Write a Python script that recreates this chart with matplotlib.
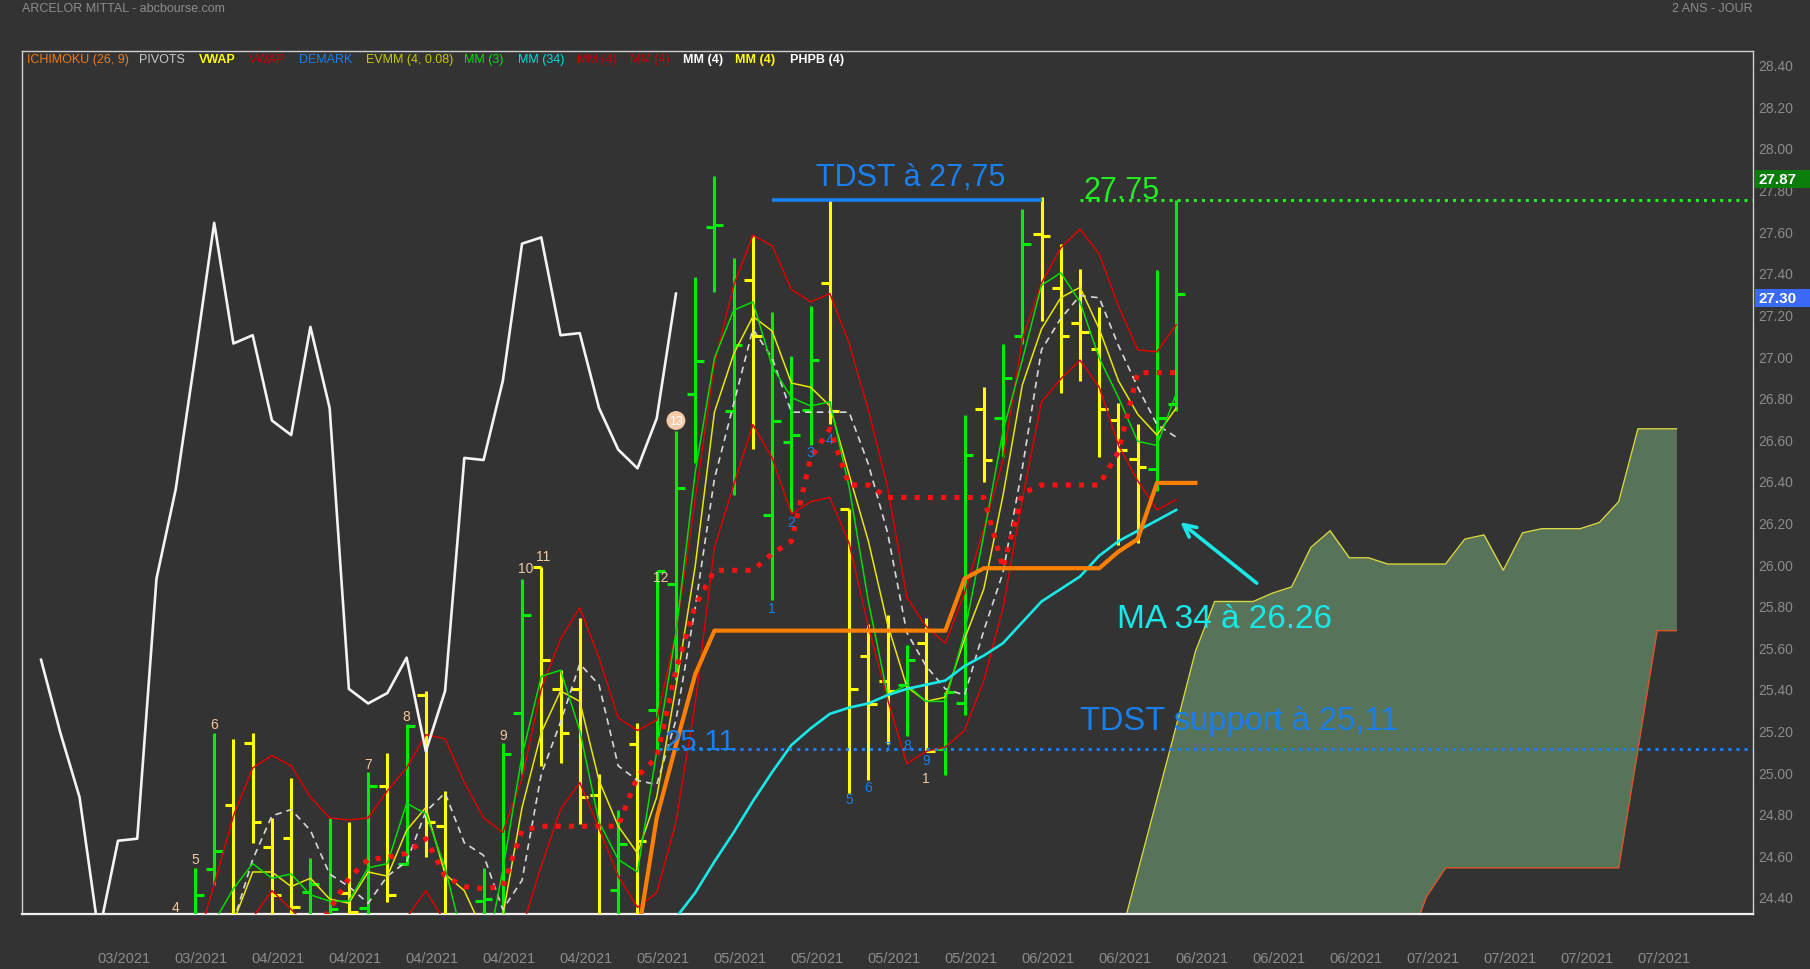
import matplotlib.pyplot as plt
from matplotlib.patches import Rectangle
from matplotlib.transforms import blended_transform_factory

# ---- cours journaliers (index de barre 8 -> 59) ----
bar_start = 8
opens = [24.25, 24.535, 24.84, 25.14, 24.64, 24.685, 24.425, 24.28, 24.42, 24.345, 24.935, 24.56, 25.37,
         24.74, 23.95, 24.38, 24.29, 25.285, 25.988, 25.40, 25.398, 24.888, 24.435, 25.134, 25.297, 25.906,
         26.819, 27.62, 26.737, 27.365, 26.236, 26.586, 26.74, 27.35, 26.267, 25.556, 25.438, 25.42, 25.62,
         25.11, 25.33, 26.747, 26.70, 27.095, 27.585, 27.326, 27.161, 27.032, 26.693, 26.506, 26.459, 26.77]
highs = [24.54, 25.19, 25.16, 25.19, 24.78, 24.97, 24.585, 24.78, 24.76, 25.00, 25.09, 25.23, 25.39,
         24.91, 24.27, 24.537, 25.139, 25.929, 25.988, 25.49, 25.74, 24.992, 24.82, 25.238, 25.965, 26.638,
         27.381, 27.865, 27.471, 27.582, 27.211, 26.999, 27.24, 27.75, 26.267, 25.71, 25.757, 25.61, 25.74,
         25.386, 26.718, 26.85, 27.06, 27.708, 27.766, 27.538, 27.42, 27.237, 26.773, 26.671, 27.413, 27.75]
lows = [24.20, 24.455, 24.25, 24.66, 24.30, 24.28, 24.30, 24.25, 24.28, 24.30, 24.375, 24.555, 24.594,
        23.60, 23.80, 23.96, 24.21, 24.992, 25.03, 25.044, 24.75, 24.076, 24.13, 24.30, 25.096, 25.445,
        26.484, 27.306, 26.33, 26.555, 25.828, 26.248, 26.57, 26.673, 24.90, 24.96, 25.134, 25.174, 25.10,
        24.985, 25.275, 26.393, 26.514, 27.06, 27.166, 26.824, 26.88, 26.514, 26.09, 26.099, 26.353, 26.737]
closes = [24.41, 24.62, 24.30, 24.76, 24.41, 24.35, 24.46, 24.34, 24.33, 24.935, 24.41, 25.22, 24.76,
          23.65, 24.10, 24.39, 25.087, 25.757, 25.54, 25.186, 24.879, 24.22, 24.655, 24.671, 25.965, 26.366,
          26.975, 27.63, 27.051, 27.098, 26.69, 26.619, 26.98, 26.737, 25.398, 25.327, 25.39, 25.54, 25.103,
          25.386, 26.525, 26.499, 26.895, 27.538, 27.576, 27.095, 27.114, 26.747, 26.549, 26.466, 26.70, 27.30]

# ---- indicateurs (valeur de depart = index) ----
mm3_start = 9
mm3 = [24.28, 24.44, 24.56, 24.49, 24.51, 24.41, 24.38, 24.38, 24.54, 24.56, 24.85, 24.80, 24.54, 24.17,
       24.05, 24.53, 25.08, 25.46, 25.49, 25.20, 24.76, 24.58, 24.52, 25.10, 25.67, 26.44, 26.99, 27.22,
       27.26, 26.95, 26.80, 26.76, 26.78, 26.37, 25.82, 25.37, 25.42, 25.34, 25.34, 25.67, 26.14, 26.64,
       26.98, 27.34, 27.40, 27.26, 26.99, 26.80, 26.59, 26.57, 26.82]
mm4_start = 10
mm4 = [24.28, 24.52, 24.52, 24.45, 24.49, 24.39, 24.37, 24.52, 24.50, 24.72, 24.83, 24.51, 24.43, 24.23,
       24.31, 24.83, 25.19, 25.39, 25.34, 24.96, 24.74, 24.61, 24.88, 25.41, 25.99, 26.73, 27.01, 27.19,
       27.12, 26.87, 26.85, 26.76, 26.43, 26.11, 25.71, 25.41, 25.34, 25.36, 25.64, 25.88, 26.33, 26.86,
       27.13, 27.28, 27.33, 27.13, 26.88, 26.72, 26.62, 26.75]
mm_high_start = 8
mm_high = [24.15, 24.46, 24.79, 25.02, 25.08, 25.03, 24.88, 24.78, 24.77, 24.78, 24.91, 25.02, 25.18, 25.16,
           24.95, 24.78, 24.71, 24.97, 25.40, 25.64, 25.79, 25.55, 25.26, 25.20, 25.25, 25.67, 26.31, 26.96,
           27.34, 27.58, 27.53, 27.32, 27.26, 27.30, 27.06, 26.74, 26.37, 25.84, 25.70, 25.62, 25.86, 26.17,
           26.50, 27.08, 27.35, 27.52, 27.61, 27.49, 27.24, 27.03, 27.02, 27.15]
mm_low_start = 9
mm_low = [24.10, 24.20, 24.30, 24.43, 24.34, 24.25, 24.15, 24.10, 24.15, 24.20, 24.30, 24.43, 24.28, 24.05,
          23.95, 24.00, 24.25, 24.55, 24.82, 24.95, 24.73, 24.50, 24.35, 24.42, 24.76, 25.33, 26.08, 26.38,
          26.67, 26.51, 26.24, 26.30, 26.32, 26.10, 25.70, 25.35, 25.04, 25.10, 25.12, 25.20, 25.44, 25.79,
          26.31, 26.78, 26.89, 26.98, 26.85, 26.57, 26.40, 26.26, 26.31]
mm_open_start = 10
mm_open = [24.28, 24.58, 24.79, 24.82, 24.72, 24.51, 24.45, 24.37, 24.50, 24.57, 24.81, 24.90, 24.66, 24.60,
           24.34, 24.48, 24.99, 25.24, 25.52, 25.42, 25.03, 24.96, 24.94, 25.25, 25.79, 26.41, 26.77, 27.13,
           26.99, 26.73, 26.73, 26.73, 26.73, 26.48, 26.15, 25.67, 25.51, 25.40, 25.37, 25.68, 25.96, 26.46,
           27.03, 27.18, 27.29, 27.28, 27.05, 26.85, 26.67, 26.61]
mm34_start = 33
mm34 = [24.30, 24.42, 24.57, 24.71, 24.86, 25.00, 25.13, 25.21, 25.28, 25.31, 25.33, 25.37, 25.40, 25.42,
        25.44, 25.51, 25.56, 25.62, 25.72, 25.82, 25.88, 25.94, 26.04, 26.11, 26.16, 26.21, 26.26]
tenkan_start = 14
tenkan = [24.20, 24.34, 24.49, 24.58, 24.59, 24.61, 24.68, 24.50, 24.45, 24.44, 24.45, 24.72, 24.74, 24.74,
          24.74, 24.74, 24.74, 24.98, 25.07, 25.49, 25.80, 25.97, 25.97, 25.97, 26.05, 26.11, 26.51, 26.65,
          26.38, 26.38, 26.32, 26.32, 26.32, 26.32, 26.32, 26.32, 25.98, 26.34, 26.38, 26.38, 26.38, 26.38,
          26.54, 26.92, 26.92, 26.92]
kijun_start = 31
kijun = [24.20, 24.78, 25.13, 25.47, 25.68, 25.68, 25.68, 25.68, 25.68, 25.68, 25.68, 25.68, 25.68, 25.68,
         25.68, 25.68, 25.68, 25.93, 25.98, 25.98, 25.98, 25.98, 25.98, 25.98, 25.98, 26.06, 26.12, 26.39,
         26.39, 26.39]
chikou_start = 0
chikou = [25.54, 25.19, 24.88, 24.22, 24.67, 24.68, 25.93, 26.36, 26.99, 27.64, 27.06, 27.10, 26.69, 26.62,
          27.14, 26.75, 25.40, 25.33, 25.38, 25.55, 25.10, 25.39, 26.51, 26.50, 26.88, 27.54, 27.57, 27.10,
          27.11, 26.75, 26.55, 26.46, 26.70, 27.30]
kumo_start = 56
senkou_a = [24.17, 24.52, 24.87, 25.22, 25.58, 25.82, 25.82, 25.82, 25.86, 25.89, 26.08, 26.16, 26.03, 26.03,
            26.00, 26.00, 26.00, 26.00, 26.12, 26.14, 25.97, 26.15, 26.17, 26.17, 26.17, 26.20, 26.30, 26.65,
            26.65, 26.65]
senkou_b = [24.00, 24.00, 24.00, 24.00, 24.00, 24.00, 24.00, 24.00, 24.00, 24.00, 24.00, 24.00, 24.00, 24.00,
            24.00, 24.15, 24.40, 24.54, 24.54, 24.54, 24.54, 24.54, 24.54, 24.54, 24.54, 24.54, 24.54, 25.11,
            25.68, 25.68]

# comptages DeMark
setup_counts = [('4', 7, 24.35), ('5', 8, 24.58), ('6', 9, 25.23), ('7', 17, 25.04), ('8', 19, 25.27),
                ('9', 24, 25.18), ('10', 25.2, 25.98), ('11', 26.1, 26.04), ('12', 32.2, 25.94), ('1', 46, 24.97)]
blue_counts = [('1', 38, 25.79), ('2', 39, 26.20), ('3', 40, 26.54), ('4', 41, 26.60), ('5', 42, 24.87),
               ('6', 43, 24.93), ('7', 44, 25.12), ('8', 45, 25.13), ('9', 46, 25.06)]

x_tick_pos = [4.33, 8.33, 12.33, 16.33, 20.33, 24.33, 28.33, 32.33, 36.33, 40.33, 44.33,
              48.33, 52.33, 56.33, 60.33, 64.33, 68.33, 72.33, 76.33, 80.33, 84.33]
x_tick_labels = ['03/2021', '03/2021', '04/2021', '04/2021', '04/2021', '04/2021', '04/2021',
                 '05/2021', '05/2021', '05/2021', '05/2021', '05/2021', '06/2021', '06/2021',
                 '06/2021', '06/2021', '06/2021', '07/2021', '07/2021', '07/2021', '07/2021']
y_ticks = [24.4, 24.6, 24.8, 25.0, 25.2, 25.4, 25.6, 25.8, 26.0, 26.2, 26.4, 26.6, 26.8,
           27.0, 27.2, 27.4, 27.6, 27.8, 28.0, 28.2, 28.4]

legend_items = [('ICHIMOKU (26, 9)', '#f07c14', 'normal', 27), ('PIVOTS', '#c8c8c8', 'normal', 139),
                ('VWAP', '#ffff00', 'bold', 199), ('VWAP', '#c80000', 'normal', 249),
                ('DEMARK', '#1a7fe8', 'normal', 299), ('EVMM (4, 0.08)', '#c8c800', 'normal', 366),
                ('MM (3)', '#00e000', 'normal', 464), ('MM (34)', '#00dede', 'normal', 518),
                ('MM (4)', '#c80000', 'normal', 577), ('MM (4)', '#c80000', 'normal', 630),
                ('MM (4)', '#ffffff', 'bold', 683), ('MM (4)', '#ffff00', 'bold', 735),
                ('PHPB (4)', '#ffffff', 'bold', 790)]

BG = '#333333'
GREY = '#8c8c8c'
REG = ['Liberation Sans', 'DejaVu Sans']
NAR = ['Liberation Sans Narrow', 'Liberation Sans', 'DejaVu Sans']

W, H = 1810, 970
fig = plt.figure(figsize=(W / 100, H / 100), dpi=100, facecolor=BG)
ax = fig.add_axes([22 / W, (H - 915) / H, (1753 - 22) / W, (915 - 52) / H])
ax.set_facecolor(BG)
ax.set_xlim(-0.99, 88.98)
ax.set_ylim(24.318, 28.466)


def xs(start, vals):
    return list(range(start, start + len(vals)))


# nuage ichimoku
kx = xs(kumo_start, senkou_a)
ax.fill_between(kx, senkou_a, senkou_b, color='#57735a', zorder=1, lw=0)
ax.plot(kx, senkou_a, color='#d8d840', lw=1.0, zorder=2)
ax.plot(kx, senkou_b, color='#d9542b', lw=1.0, zorder=2)

# barres OHLC
for k in range(len(opens)):
    x = bar_start + k
    col = '#00ee00' if closes[k] >= opens[k] else '#ffff00'
    ax.vlines(x, lows[k], highs[k], color=col, lw=2.2, zorder=3)
    ax.hlines(opens[k], x - 0.45, x, color=col, lw=2.2, zorder=3)
    ax.hlines(closes[k], x, x + 0.45, color=col, lw=2.2, zorder=3)

# moyennes mobiles
ax.plot(xs(mm_high_start, mm_high), mm_high, color='#dd0000', lw=1.1, zorder=4)
ax.plot(xs(mm_low_start, mm_low), mm_low, color='#dd0000', lw=1.1, zorder=4)
ax.plot(xs(mm_open_start, mm_open), mm_open, color='#d8d8d8', lw=1.2, ls=(0, (4, 3)), zorder=4)
ax.plot(xs(mm4_start, mm4), mm4, color='#e8e800', lw=1.1, zorder=4)
ax.plot(xs(mm3_start, mm3), mm3, color='#00dd00', lw=1.1, zorder=4)
ax.plot(xs(mm34_start, mm34), mm34, color='#18e8e8', lw=1.9, zorder=4)
ax.plot(xs(kijun_start, kijun), kijun, color='#ff8000', lw=3.0, zorder=5)
ax.plot(xs(tenkan_start, tenkan), tenkan, color='#ff1010', lw=3.6, ls=':', zorder=5)
ax.plot(xs(chikou_start, chikou), chikou, color='#f4f4f4', lw=1.9, zorder=5)

# lignes TDST et annotations
ax.hlines(27.75, 38.0, 52.0, color='#1a80f0', lw=2.6, zorder=6)
ax.text(45.2, 27.86, 'TDST à 27,75', color='#1a80f0', fontsize=22, family=REG, ha='center', va='center', zorder=7)
ax.hlines(27.75, 54.0, 89.5, color='#22ee22', lw=2.2, ls=':', zorder=6)
ax.text(54.2, 27.76, '27.75', color='#22ee22', fontsize=22, family=REG, ha='left', va='baseline', zorder=7)
ax.hlines(25.11, 32.1, 89.5, color='#1a80ff', lw=2.2, ls=':', zorder=6)
ax.text(32.4, 25.11, '25.11', color='#1a80f0', fontsize=21, family=REG, ha='left', va='baseline', zorder=7)
ax.text(54.0, 25.25, 'TDST support à 25,11', color='#1a7fe8', fontsize=23.5, family=NAR, ha='left', va='center', zorder=7)
ax.text(55.9, 25.74, 'MA 34 à 26.26', color='#18e8e8', fontsize=24, family=NAR, ha='left', va='center', zorder=7)
ax.annotate('', xy=(59.1, 26.21), xytext=(63.3, 25.90), zorder=7,
            arrowprops=dict(arrowstyle='->', color='#18e8e8', lw=2.6, mutation_scale=22))

for txt, x, y in setup_counts:
    ax.text(x, y, txt, color='#f2c8a0', fontsize=10, family=REG, ha='center', va='center', zorder=7)
ax.text(33, 26.69, '13', color='white', fontsize=9, family=REG, ha='center', va='center', zorder=7,
        bbox=dict(boxstyle='circle,pad=0.2', fc='#f5cba7', ec='none'))
for txt, x, y in blue_counts:
    ax.text(x, y, txt, color='#1a7fe8', fontsize=10, family=REG, ha='center', va='center', zorder=7)

# axes
for side in ['left', 'top', 'right']:
    ax.spines[side].set_color('#cfcfcf')
    ax.spines[side].set_linewidth(1.0)
ax.spines['bottom'].set_color('#f0f0f0')
ax.spines['bottom'].set_linewidth(1.6)
ax.yaxis.tick_right()
ax.set_yticks(y_ticks)
ax.set_yticklabels(['%.2f' % v for v in y_ticks], color=GREY, fontsize=10, family=REG)
ax.set_xticks(x_tick_pos)
ax.set_xticklabels(x_tick_labels, color=GREY, fontsize=10.5, family=NAR)
ax.tick_params(axis='y', length=0, pad=4)
ax.tick_params(axis='x', length=0, pad=27)

# etiquettes de prix a droite
blend = blended_transform_factory(fig.transFigure, ax.transData)
for val, y, col in [('27.87', 27.85, '#0a7d0a'), ('27.30', 27.278, '#3a6af5')]:
    fig.add_artist(Rectangle((1755 / W, y - 0.044), 55 / W, 0.088, transform=blend, fc=col, ec='none', zorder=5))
    fig.text(1758 / W, y, val, transform=blend, color='white', fontsize=11, fontweight='bold',
             family=REG, va='center', ha='left', zorder=6)

# titres et legende
fig.text(22 / W, 1 - 3 / H, 'ARCELOR MITTAL - abcbourse.com', color=GREY, fontsize=9, family=NAR, va='top')
fig.text(1753 / W, 1 - 3 / H, '2 ANS - JOUR', color=GREY, fontsize=9, family=NAR, va='top', ha='right')
for txt, col, w, x in legend_items:
    fig.text(x / W, 1 - 60 / H, txt, color=col, fontsize=9, fontweight=w, family=NAR, va='center')

fig.savefig('out.png', dpi=100, facecolor=BG)
